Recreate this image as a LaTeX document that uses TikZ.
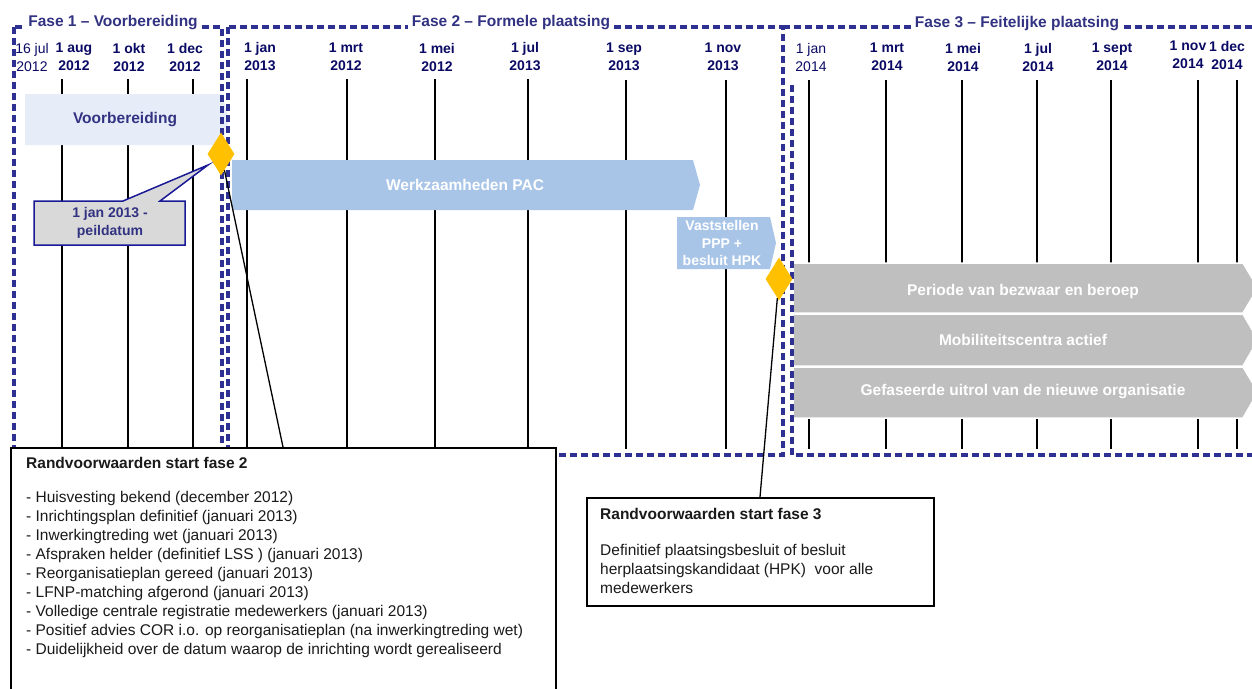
\documentclass[tikz,border=0pt]{standalone}
\usepackage{fontspec}
\setmainfont{Liberation Sans}
\usetikzlibrary{positioning,shapes.geometric}
\definecolor{fasenavy}{RGB}{46,49,146}
\definecolor{titlenavy}{RGB}{50,50,130}
\definecolor{datenavy}{RGB}{10,10,100}
\definecolor{voorblue}{RGB}{230,236,248}
\definecolor{pacblue}{RGB}{168,197,232}
\definecolor{mijlgold}{RGB}{255,192,0}
\definecolor{barsgrey}{RGB}{191,191,191}
\definecolor{calloutgrey}{RGB}{217,217,217}
\definecolor{calloutline}{RGB}{26,26,150}
\definecolor{boxtext}{RGB}{26,26,26}

\begin{document}
\begin{tikzpicture}[x=1pt, y=-1pt,
  faselijn/.style={draw=fasenavy, line width=3.2pt, dash pattern=on 7pt off 4pt},
  fasetitel/.style={fill=white, text=titlenavy, font=\fontsize{15.5}{19}\selectfont\bfseries, inner sep=4pt},
  datum/.style={text=datenavy, font=\fontsize{14}{18}\selectfont\bfseries, align=center, inner sep=0pt},
  datumlicht/.style={datum, font=\fontsize{14}{18}\selectfont},
  maandlijn/.style={line width=1.6pt},
  balktekst/.style={font=\fontsize{15.5}{19}\selectfont\bfseries, text=white, inner sep=0pt},
  grijsbalk/.style={fill=barsgrey, draw=white, line width=1.5pt},
  mijlpaal/.style={diamond, fill=mijlgold, minimum width=27pt, minimum height=43pt, inner sep=0pt},
  randbox/.style={draw, fill=white, line width=1.5pt, inner sep=0pt},
  randtitel/.style={font=\fontsize{15.5}{19}\selectfont\bfseries, text=boxtext, inner sep=0pt},
  randlijst/.style={font=\fontsize{15.5}{19}\selectfont, text=boxtext, align=left, inner sep=0pt}]

\clip (0,0) rectangle (1252,688);

\foreach \x in {62,128,193,247,347,435,528}
  \draw[maandlijn] (\x,79) -- (\x,447);
\foreach \x in {626,726,809,886,962,1037,1111,1198,1237}
  \draw[maandlijn] (\x,80) -- (\x,449);

\fill[voorblue] (25,94) -- (222,94) -- (229,120) -- (222,145) -- (25,145) -- cycle;
\node[balktekst, text=titlenavy] (voorb) at (125,120) {Voorbereiding};
\fill[pacblue] (232,160) -- (693,160) -- (700,185) -- (693,210) -- (232,210) -- cycle;
\node[balktekst] (pac) at (465,185) {Werkzaamheden PAC};
\fill[pacblue] (677,217) -- (770,217) -- (776,243) -- (770,269) -- (677,269) -- cycle;
\node[balktekst, font=\fontsize{14}{17.5}\selectfont\bfseries, align=center] (ppp) at (722,243) {Vaststellen\\PPP +\\besluit HPK};

\filldraw[grijsbalk] (793,263) -- (1243,263) -- (1258,288) -- (1243,313) -- (793,313) -- cycle;
\filldraw[grijsbalk] (793,314) -- (1243,314) -- (1258,340) -- (1243,366) -- (793,366) -- cycle;
\filldraw[grijsbalk] (793,367) -- (1243,367) -- (1258,392) -- (1243,418) -- (793,418) -- cycle;
\node[balktekst] (bezwaar) at (1023,291) {Periode van bezwaar en beroep};
\node[balktekst] (mobiel) at (1023,340) {Mobiliteitscentra actief};
\node[balktekst] (uitrol) at (1023,392) {Gefaseerde uitrol van de nieuwe organisatie};

\draw[faselijn] (14,27) rectangle (222,450);
\draw[faselijn] (228,27) rectangle (783,455);
\draw[faselijn] (783,27) -- (1262,27);
\draw[faselijn] (792,85) -- (792,455) -- (1262,455);

\node[fasetitel] (fase1) at (113,23) {Fase 1 -- Voorbereiding};
\node[fasetitel] (fase2) at (511,23) {Fase 2 -- Formele plaatsing};
\node[fasetitel] (fase3) at (1017,24) {Fase 3 -- Feitelijke plaatsing};

\node[datumlicht] (jul12) at (32,57) {16 jul\\2012};
\node[datum] (aug12) at (74,57) {1 aug\\2012};
\node[datum] (okt12) at (129,57) {1 okt\\2012};
\node[datum] (dec12) at (185,57) {1 dec\\2012};
\node[datum] (jan13) at (260,57) {1 jan\\2013};
\node[datum] (mrt13) at (346,57) {1 mrt\\2012};
\node[datum] (mei13) at (437,57) {1 mei\\2012};
\node[datum] (jul13) at (525,57) {1 jul\\2013};
\node[datum] (sep13) at (624,57) {1 sep\\2013};
\node[datum] (nov13) at (723,57) {1 nov\\2013};
\node[datumlicht] (jan14) at (811,57) {1 jan\\2014};
\node[datum] (mrt14) at (887,57) {1 mrt\\2014};
\node[datum] (mei14) at (963,57) {1 mei\\2014};
\node[datum] (jul14) at (1038,57) {1 jul\\2014};
\node[datum] (sep14) at (1112,57) {1 sept\\2014};
\node[datum] (nov14) at (1188,55) {1 nov\\2014};
\node[datum] (dec14) at (1227,55) {1 dec\\2014};

\node[mijlpaal] (d1) at (221,154) {};
\node[mijlpaal] (d2) at (779,279) {};

\coordinate (peiltip) at (208,165);
\filldraw[fill=calloutgrey, draw=calloutline, line width=1.5pt, line join=miter]
  (34,201) -- (123,201) -- (peiltip) -- (160,201) -- (185,201) -- (185,245) -- (34,245) -- cycle;
\node[text=titlenavy, font=\fontsize{14}{18}\selectfont\bfseries, align=center] (peil) at (110,223) {1 jan 2013 -\\peildatum};

\node[randbox, minimum width=545pt, minimum height=260pt, anchor=north west] (rvtwo) at (10,447) {};
\node[randbox, minimum width=347pt, minimum height=108pt, anchor=north west] (rvthree) at (586,497) {};
\draw[line width=1.3pt] (d1) -- ([xshift=273pt]rvtwo.north west);
\draw[line width=1.3pt] (d2) -- ([xshift=174pt]rvthree.north west);

\node[randtitel, anchor=west] (rvtwotitel) at (26,463) {Randvoorwaarden start fase 2};
\node[randlijst, anchor=north west] (rvtwolijst) at (26,491) {- Huisvesting bekend (december 2012)\\
- Inrichtingsplan definitief (januari 2013)\\
- Inwerkingtreding wet (januari 2013)\\
- Afspraken helder (definitief LSS ) (januari 2013)\\
- Reorganisatieplan gereed (januari 2013)\\
- LFNP-matching afgerond (januari 2013)\\
- Volledige centrale registratie medewerkers (januari 2013)\\
- Positief advies COR i.o. op reorganisatieplan (na inwerkingtreding wet)\\
- Duidelijkheid over de datum waarop de inrichting wordt gerealiseerd};

\node[randtitel, anchor=west] (rvthreetitel) at (600,514) {Randvoorwaarden start fase 3};
\node[randlijst, anchor=north west] (rvthreelijst) at (600,544) {Definitief plaatsingsbesluit of besluit\\
herplaatsingskandidaat (HPK)\ \ voor alle\\
medewerkers};

\end{tikzpicture}
\end{document}
